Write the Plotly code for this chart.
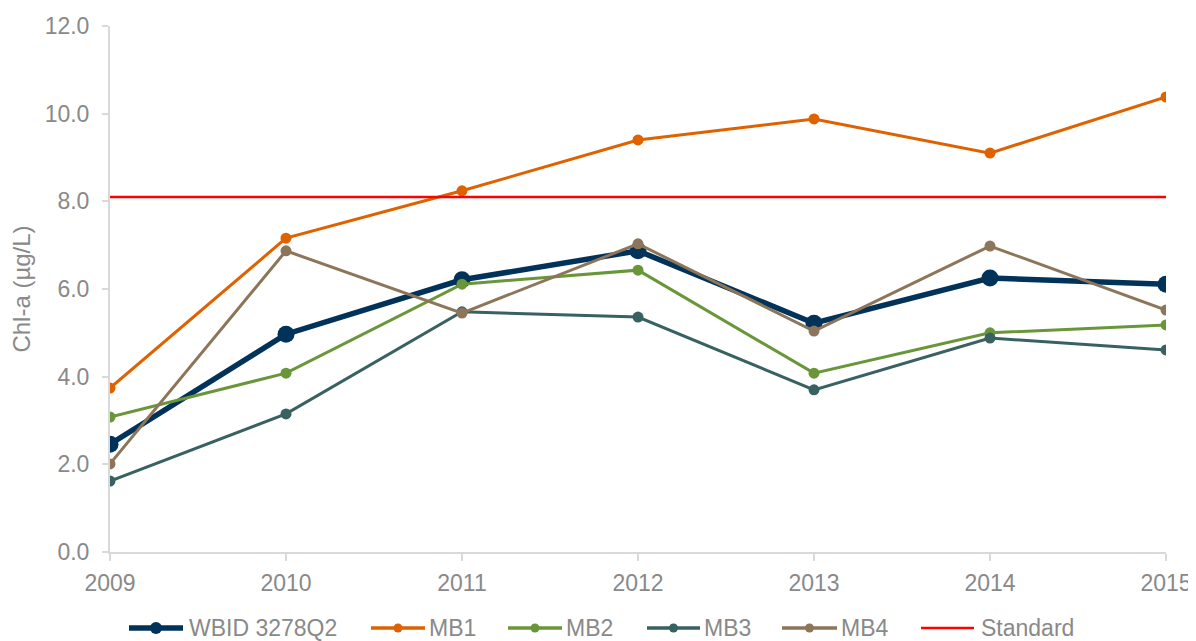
import plotly.graph_objects as go

years = [2009, 2010, 2011, 2012, 2013, 2014, 2015]
wbid = [2.46, 4.97, 6.21, 6.87, 5.22, 6.25, 6.11]
mb1 = [3.74, 7.16, 8.24, 9.40, 9.88, 9.10, 10.38]
mb2 = [3.08, 4.08, 6.11, 6.43, 4.08, 5.00, 5.18]
mb3 = [1.62, 3.15, 5.48, 5.36, 3.70, 4.88, 4.61]
mb4 = [2.01, 6.87, 5.45, 7.03, 5.04, 6.98, 5.52]
standard = 8.1
y_ticks = [0, 2, 4, 6, 8, 10, 12]

series = [
    ("WBID 3278Q2", wbid, "#00325A", 5.5, 17),
    ("MB1", mb1, "#DF6200", 3, 11),
    ("MB2", mb2, "#6A963A", 3, 11),
    ("MB3", mb3, "#386162", 3, 11),
    ("MB4", mb4, "#8C7558", 3, 11),
]
std_color = "#FF0000"

# page body has an 8px margin, so the figure is offset by 8px
W, H = 1188, 633
L, R, T, B = 102, 30, 18, 89
PW, PH = W - L - R, H - T - B

fig = go.Figure()
for name, vals, color, lw, ms in series:
    fig.add_trace(go.Scatter(
        x=years, y=vals, name=name, mode="lines+markers",
        line=dict(color=color, width=lw),
        marker=dict(color=color, size=ms),
    ))
fig.add_trace(go.Scatter(
    x=[years[0], years[-1]], y=[standard, standard], name="Standard",
    mode="lines", line=dict(color=std_color, width=2.5),
))

gray = "#898989"
font_family = "Liberation Sans, Arial, sans-serif"

# custom legend (pixel positions in figure coords)
legend_items = [
    ("WBID 3278Q2", "#00325A", 5.5, 12, 121, 175, 180),
    ("MB1", "#DF6200", 3.5, 9, 363, 417, 420),
    ("MB2", "#6A963A", 3.5, 9, 500, 554, 557),
    ("MB3", "#386162", 3.5, 9, 639, 692, 695),
    ("MB4", "#8C7558", 3.5, 9, 774, 829, 832),
    ("Standard", std_color, 2.5, 0, 913, 966, 972),
]
leg_y_px = 620


def px_x(v):
    return (v - L) / PW


def px_y(v):
    return (H - B - v) / PH


shapes = []
annotations = []
ly = px_y(leg_y_px)
for name, color, lw, ms, x0, x1, tx in legend_items:
    shapes.append(dict(type="line", xref="paper", yref="paper",
                       x0=px_x(x0), x1=px_x(x1), y0=ly, y1=ly,
                       line=dict(color=color, width=lw)))
    if ms:
        xc = px_x((x0 + x1) / 2)
        shapes.append(dict(type="circle", xref="paper", yref="paper",
                           xsizemode="pixel", ysizemode="pixel",
                           xanchor=xc, yanchor=ly,
                           x0=-ms / 2, x1=ms / 2, y0=-ms / 2, y1=ms / 2,
                           fillcolor=color, line=dict(color=color, width=0)))
    annotations.append(dict(text=name, xref="paper", yref="paper",
                            x=px_x(tx), y=ly, xanchor="left", yanchor="middle",
                            showarrow=False, borderpad=0,
                            font=dict(family=font_family, size=23, color=gray)))

fig.update_layout(
    width=W, height=H,
    margin=dict(l=L, r=R, t=T, b=B, autoexpand=False),
    plot_bgcolor="white", paper_bgcolor="white",
    font=dict(family=font_family, size=23, color=gray),
    showlegend=False,
    shapes=shapes,
    annotations=annotations,
    xaxis=dict(range=[years[0], years[-1]], tickmode="array", tickvals=years,
               ticktext=[str(y) for y in years], automargin=False,
               showgrid=False, zeroline=False, showline=True, linecolor="#D9D9D9", linewidth=2,
               ticks="outside", ticklen=7, tickcolor="#D9D9D9", tickwidth=1.5,
               ticklabelstandoff=2,
               tickfont=dict(size=23, color=gray)),
    yaxis=dict(range=[y_ticks[0], y_ticks[-1]], tickmode="array", tickvals=y_ticks,
               ticktext=[f"{v:.1f}" for v in y_ticks], automargin=False,
               showgrid=False, zeroline=False, showline=True, linecolor="#D9D9D9", linewidth=2,
               ticks="outside", ticklen=6, tickcolor="#D9D9D9", tickwidth=1.5,
               ticklabelstandoff=8,
               tickfont=dict(size=23, color=gray),
               title=dict(text="Chl-a (µg/L)", font=dict(size=24, color=gray), standoff=12)),
)

fig.write_html("out.html")
